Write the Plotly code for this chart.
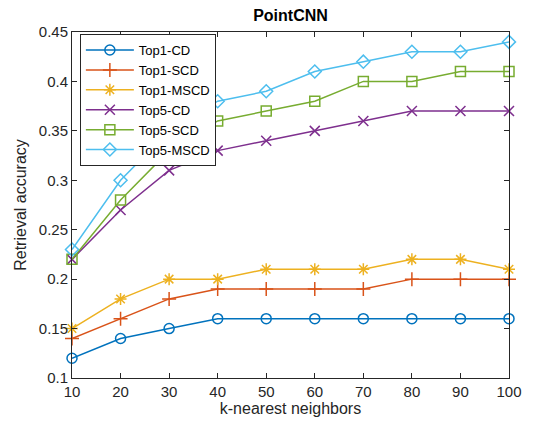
import plotly.graph_objects as go

k = [10, 20, 30, 40, 50, 60, 70, 80, 90, 100]
top1_cd = [0.12, 0.14, 0.15, 0.16, 0.16, 0.16, 0.16, 0.16, 0.16, 0.16]
top1_scd = [0.14, 0.16, 0.18, 0.19, 0.19, 0.19, 0.19, 0.20, 0.20, 0.20]
top1_mscd = [0.15, 0.18, 0.20, 0.20, 0.21, 0.21, 0.21, 0.22, 0.22, 0.21]
top5_cd = [0.22, 0.27, 0.31, 0.33, 0.34, 0.35, 0.36, 0.37, 0.37, 0.37]
top5_scd = [0.22, 0.28, 0.33, 0.36, 0.37, 0.38, 0.40, 0.40, 0.41, 0.41]
top5_mscd = [0.23, 0.30, 0.35, 0.38, 0.39, 0.41, 0.42, 0.43, 0.43, 0.44]

x_ticks = [10, 20, 30, 40, 50, 60, 70, 80, 90, 100]
y_ticks = [0.1, 0.15, 0.2, 0.25, 0.3, 0.35, 0.4, 0.45]

series = [
    ("Top1-CD", top1_cd, "#0072BD", "circle-open"),
    ("Top1-SCD", top1_scd, "#D95319", "cross-thin-open"),
    ("Top1-MSCD", top1_mscd, "#EDB120", "asterisk-open"),
    ("Top5-CD", top5_cd, "#7E2F8E", "x-thin-open"),
    ("Top5-SCD", top5_scd, "#77AC30", "square-open"),
    ("Top5-MSCD", top5_mscd, "#4DBEEE", "diamond-open"),
]

fig = go.Figure()
for name, vals, color, sym in series:
    fig.add_trace(go.Scatter(
        x=k, y=vals, name=name, mode="lines+markers",
        line=dict(color=color, width=1.5),
        marker=dict(symbol=sym, size=10, color=color, line=dict(color=color, width=1.5)),
        cliponaxis=False,
    ))

W, H = 538, 415
font_family = "Liberation Sans, Arial, sans-serif"
fig.update_layout(
    width=W, height=H,
    margin=dict(l=64, r=37, t=24, b=45),
    paper_bgcolor="white", plot_bgcolor="white",
    font=dict(family=font_family, size=15, color="#262626"),
    title=dict(text="<b>PointCNN</b>", x=0.5, xref="paper", xanchor="center",
               y=1 - 7 / H, yref="container", yanchor="middle",
               font=dict(size=16, color="black")),
    showlegend=True,
    legend=dict(x=0.018, y=0.994, xanchor="left", yanchor="top",
                bgcolor="white", bordercolor="#262626", borderwidth=1,
                font=dict(size=13, color="black"), tracegroupgap=0,
                itemwidth=48),
    xaxis=dict(range=[10, 100], tickvals=x_ticks, showgrid=False, zeroline=False,
               automargin=False,
               showline=True, linecolor="#262626", linewidth=1, mirror="ticks",
               ticks="inside", ticklen=5, tickcolor="#262626",
               title=dict(text="k-nearest neighbors", font=dict(size=16), standoff=2)),
    yaxis=dict(range=[0.1, 0.45], tickvals=y_ticks, showgrid=False, zeroline=False,
               automargin=False,
               showline=True, linecolor="#262626", linewidth=1, mirror="ticks",
               ticks="inside", ticklen=5, tickcolor="#262626",
               title=dict(text="Retrieval accuracy", font=dict(size=16), standoff=8)),
)

fig.write_html("out.html")
